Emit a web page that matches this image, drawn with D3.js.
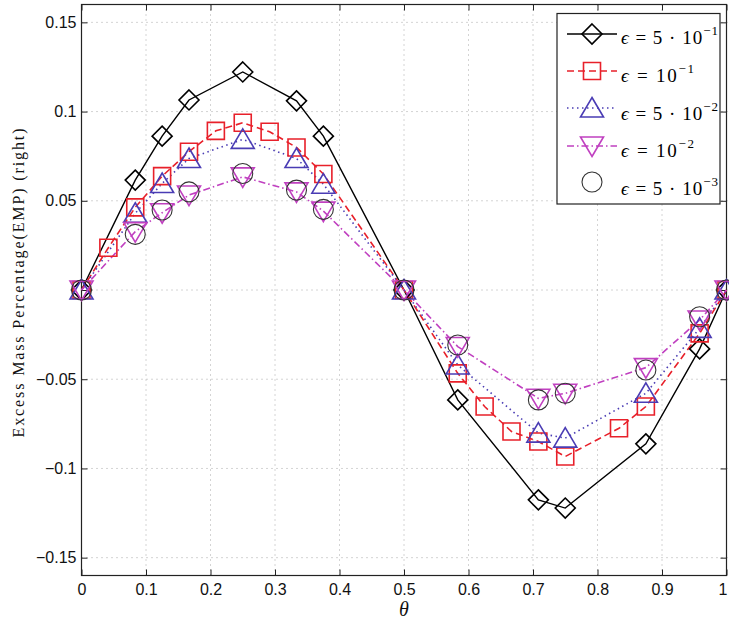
<!DOCTYPE html>
<html><head><meta charset="utf-8">
<script src="https://cdn.jsdelivr.net/npm/d3@7"></script>
<style>
html,body{margin:0;padding:0;background:#fff;}
svg{display:block;}
</style></head>
<body>
<script>
// ---- data ----
const xTicks = [0,0.1,0.2,0.3,0.4,0.5,0.6,0.7,0.8,0.9,1];
const xTickLabels = ["0","0.1","0.2","0.3","0.4","0.5","0.6","0.7","0.8","0.9","1"];
const yTicks = [-0.15,-0.1,-0.05,0,0.05,0.1,0.15];
const yTickLabels = ["\u22120.15","\u22120.1","\u22120.05","","0.05","0.1","0.15"];

const xCoarse = [0,1/12,1/8,1/6,1/4,1/3,3/8,1/2,7/12,17/24,3/4,7/8,23/24,1];
const xFine = [0,1/24,1/12,1/8,1/6,5/24,1/4,7/24,1/3,3/8,1/2,7/12,5/8,2/3,17/24,3/4,5/6,7/8,23/24,1];

const yEps5e1 = [0,0.0616,0.0862,0.1065,0.1222,0.106,0.0862,0,-0.0616,-0.1176,-0.1222,-0.0862,-0.033,0];
const yEps1e1 = [0,0.0237,0.0463,0.0638,0.0775,0.0892,0.0937,0.0887,0.0799,0.065,0,-0.0467,-0.0653,-0.0793,-0.0849,-0.0933,-0.0775,-0.0653,-0.0243,0];
const yEps5e2 = [0,0.043,0.0597,0.0737,0.0844,0.0737,0.0593,0,-0.042,-0.0802,-0.083,-0.0579,-0.0215,0];
const yEps1e2 = [0,0.0327,0.0433,0.0532,0.0634,0.055,0.0442,0,-0.0317,-0.0607,-0.0579,-0.0435,-0.0168,0];
const yEps5e3 = [0,0.0312,0.0448,0.055,0.0653,0.056,0.0452,0,-0.0308,-0.0616,-0.0579,-0.0448,-0.015,0];

const legendMant = ["5 \u00b7 10","10","5 \u00b7 10","10","5 \u00b7 10"];
const legendExp = ["\u22121","\u22121","\u22122","\u22122","\u22123"];

const series = [
  {xs:xCoarse, ys:yEps5e1, color:"#000000", dash:null, marker:"diamond", line:true},
  {xs:xFine,   ys:yEps1e1, color:"#e8202a", dash:"7,4", marker:"square", line:true},
  {xs:xCoarse, ys:yEps5e2, color:"#4a3cb4", dash:"1.5,3.5", marker:"triangle", line:true},
  {xs:xCoarse, ys:yEps1e2, color:"#c040c0", dash:"7,3,1.5,3", marker:"tridown", line:true},
  {xs:xCoarse, ys:yEps5e3, color:"#333333", dash:null, marker:"circle", line:false}
];

// ---- layout ----
const W=729, H=624;
const L=81.5, R=726.5, T=4.5, B=575.5;
const svg = d3.select("body").append("svg").attr("width",W).attr("height",H);
const x = d3.scaleLinear().domain([0,1]).range([L,R]);
const y = d3.scaleLinear().domain([-0.16,0.16]).range([B,T]);

// grid
const g = svg.append("g");
g.selectAll(".gx").data(xTicks.slice(1,-1)).join("line")
  .attr("x1",d=>x(d)).attr("x2",d=>x(d)).attr("y1",T).attr("y2",B)
  .attr("stroke","#a8a8a8").attr("stroke-width",1).attr("stroke-dasharray","1,4");
g.selectAll(".gy").data(yTicks).join("line")
  .attr("x1",L).attr("x2",R+1).attr("y1",d=>y(d)).attr("y2",d=>y(d))
  .attr("stroke","#a8a8a8").attr("stroke-width",1).attr("stroke-dasharray","1,4");

// axes
const fontSans = "'Liberation Sans', Arial, Helvetica, sans-serif";
const ax = svg.append("g").attr("transform",`translate(0,${B})`)
  .call(d3.axisBottom(x).tickValues(xTicks).tickFormat((d,i)=>xTickLabels[i]).tickSizeInner(-6).tickSizeOuter(0).tickPadding(8));
const ay = svg.append("g").attr("transform",`translate(${L},0)`)
  .call(d3.axisLeft(y).tickValues(yTicks).tickFormat((d,i)=>yTickLabels[i]).tickSizeInner(-6).tickSizeOuter(0).tickPadding(5));
const axT = svg.append("g").attr("transform",`translate(0,${T})`)
  .call(d3.axisTop(x).tickValues(xTicks).tickFormat("").tickSizeInner(-6).tickSizeOuter(0));
const ayR = svg.append("g").attr("transform",`translate(${R},0)`)
  .call(d3.axisRight(y).tickValues(yTicks).tickFormat("").tickSizeInner(-6).tickSizeOuter(0));
[ax,ay,axT,ayR].forEach(a=>{
  a.select(".domain").remove();
  a.selectAll("line").attr("stroke","#222");
  a.selectAll("text").attr("font-family",fontSans).attr("font-size","16px").attr("fill","#111");
});
// keep the last x label inside the window
ax.selectAll(".tick text").filter(d=>d===1).attr("dx",-4);
// box
svg.append("rect").attr("x",L).attr("y",T).attr("width",R-L).attr("height",B-T)
  .attr("fill","none").attr("stroke","#222").attr("stroke-width",1.2);

// markers
function markerPath(type){
  switch(type){
    case "diamond": return "M0,-10L10,0L0,10L-10,0Z";
    case "square": return "M-8.5,-8.5H8.5V8.5H-8.5Z";
    case "triangle": return "M0,-10.5L11.5,9L-11.5,9Z";
    case "tridown": return "M0,10.5L11.5,-9L-11.5,-9Z";
    case "circle": return "M10,0A10,10 0 1,1 -10,0A10,10 0 1,1 10,0Z";
  }
}

const plot = svg.append("g");
const lineGen = d3.line().x(d=>x(d[0])).y(d=>y(d[1]));
series.forEach(s=>{
  const pts = s.xs.map((xv,i)=>[xv,s.ys[i]]);
  if(s.line){
    plot.append("path").datum(pts).attr("d",lineGen)
      .attr("fill","none").attr("stroke",s.color).attr("stroke-width",s.dash?1.6:1.4)
      .attr("stroke-dasharray",s.dash);
  }
});
series.forEach(s=>{
  const pts = s.xs.map((xv,i)=>[xv,s.ys[i]]);
  plot.selectAll(null).data(pts).join("path")
    .attr("d",markerPath(s.marker))
    .attr("transform",d=>`translate(${x(d[0])},${y(d[1])})`)
    .attr("fill","none").attr("stroke",s.color)
    .attr("stroke-width",s.marker==="circle"?1.1:1.6);
});

// legend
const lg = svg.append("g");
lg.append("rect").attr("x",557).attr("y",13.5).attr("width",163).attr("height",190.5)
  .attr("fill","#fff").attr("stroke","#222").attr("stroke-width",1.2);
const rowY = [34,71,108,146,182];
const txtY = [44,82,120,157,195];
const txtW = [97,73,97,73,97];
series.forEach((s,i)=>{
  if(s.line){
    lg.append("line").attr("x1",567).attr("x2",617).attr("y1",rowY[i]).attr("y2",rowY[i])
      .attr("stroke",s.color).attr("stroke-width",s.dash?1.6:1.4).attr("stroke-dasharray",s.dash);
  }
  lg.append("path").attr("d",markerPath(s.marker))
    .attr("transform",`translate(592,${rowY[i]})`)
    .attr("fill","none").attr("stroke",s.color).attr("stroke-width",s.marker==="circle"?1.1:1.6);
  const t = lg.append("text").attr("x",621).attr("y",txtY[i])
    .attr("font-family","'Liberation Serif','DejaVu Serif',serif").attr("font-size","19px").attr("fill","#000");
  t.append("tspan").attr("font-style","italic").text("\u03f5");
  t.append("tspan").text(" = " + legendMant[i]);
  t.append("tspan").attr("font-size","13px").attr("dy",-9).text(legendExp[i]);
  t.attr("textLength",txtW[i]).attr("lengthAdjust","spacing");
});

// axis titles
svg.append("text").attr("x",404).attr("y",616).attr("text-anchor","middle")
  .attr("font-family","'Liberation Serif','DejaVu Serif',serif").attr("font-style","italic")
  .attr("font-size","20px").attr("fill","#111").text("\u03b8");
svg.append("text").attr("transform","translate(24,283) rotate(-90)").attr("text-anchor","middle")
  .attr("font-family","'Liberation Serif','DejaVu Serif',serif").attr("font-size","16px").attr("fill","#111")
  .attr("textLength",309).attr("lengthAdjust","spacing")
  .text("Excess Mass Percentage(EMP) (right)");
</script>
</body></html>
